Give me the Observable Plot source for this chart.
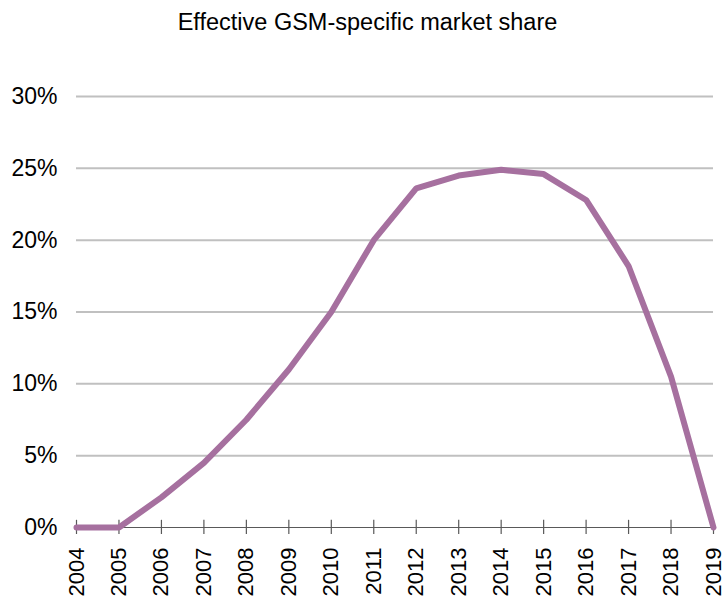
<!DOCTYPE html>
<html>
<head>
<meta charset="utf-8">
<script src="https://cdn.jsdelivr.net/npm/d3@7"></script>
<script src="https://cdn.jsdelivr.net/npm/@observablehq/plot@0.6"></script>
<style>
  html, body { margin: 0; padding: 0; background: #fff; }
  body { width: 725px; font-family: "Liberation Sans", Arial, sans-serif; }
  #title { height: 45px; line-height: 45px; text-align: center; font-size: 23.5px; color: #000; padding-left: 10px; box-sizing: border-box; }
</style>
</head>
<body>
<div id="title">Effective GSM-specific market share</div>
<div id="chart"></div>
<script>
const years = [2004, 2005, 2006, 2007, 2008, 2009, 2010, 2011, 2012, 2013, 2014, 2015, 2016, 2017, 2018, 2019];
const share = [0, 0, 2.1, 4.5, 7.5, 11.0, 15.0, 20.0, 23.6, 24.5, 24.9, 24.6, 22.8, 18.2, 10.5, 0];
const yTicks = [0, 5, 10, 15, 20, 25, 30];

const data = years.map((y, i) => ({year: y, value: share[i]}));

const chart = Plot.plot({
  width: 725,
  height: 558,
  marginTop: 51,
  marginBottom: 76,
  marginLeft: 76,
  marginRight: 12,
  style: {fontFamily: '"Liberation Sans", Arial, sans-serif', fontSize: "23px", color: "#000", background: "#fff"},
  x: {type: "linear", domain: [2004, 2019], label: null},
  y: {domain: [0, 30], label: null},
  marks: [
    Plot.ruleY(yTicks.filter(d => d > 0), {stroke: "#c0c0c0", strokeWidth: 2}),
    Plot.axisY(yTicks, {tickSize: 0, tickPadding: 19, tickFormat: d => d + "%", fontSize: 23, label: null}),
    Plot.ruleY([0], {stroke: "#595959", strokeWidth: 1.2}),
    Plot.ruleX(years, {y1: 0, y2: 0.5, stroke: "#595959", strokeWidth: 1.2}),
    Plot.axisX(years, {tickSize: 7, tickPadding: 13, tickRotate: -90, tickFormat: d => String(d), stroke: "#595959", strokeWidth: 1.2, fontSize: 22, label: null}),
    Plot.line(data, {x: "year", y: "value", stroke: "#a6709f", strokeWidth: 6, strokeLinejoin: "miter"})
  ]
});
document.getElementById("chart").appendChild(chart);
</script>
</body>
</html>
